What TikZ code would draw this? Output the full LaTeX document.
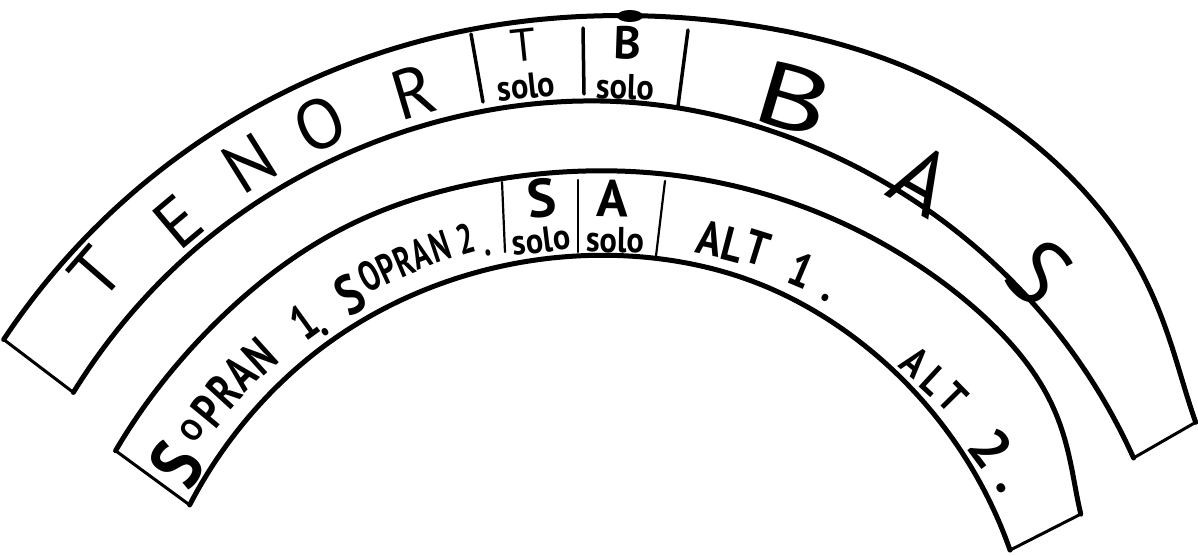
\documentclass[tikz,border=0pt]{standalone}
\usepackage{fontspec}
\setmainfont{PT Sans}
\begin{document}
\begin{tikzpicture}[x=1pt,y=-1pt,
  declare function={
    sp(\u)=(\u+sqrt(\u*\u+100))/2;
    rA(\t)=722+15*exp(-min(9,(\t-62)*(\t-62)/324))-55*exp(-min(9,(\t-25)*(\t-25)/196));
    rB(\t)=641-0.7*sp(88-\t)-0.3*sp(\t-128);
    rC(\t)=568+6*exp(-min(9,(\t-117)*(\t-117)/225))-45*exp(-min(9,(\t-22)*(\t-22)/144));
    rD(\t)=485-0.8*sp(72-\t)-0.3*sp(\t-125);
  },
  edge/.style={line width=5pt, line cap=round, line join=round},
  endline/.style={line width=3pt, line cap=round},
  divider/.style={line width=3.5pt, line cap=round},
  thindiv/.style={line width=2.2pt, line cap=round},
  tenorL/.style={inner sep=0pt, font=\fontsize{70}{70}\selectfont},
  basL/.style={inner sep=0pt, font=\fontsize{90}{90}\selectfont},
  soloL/.style={inner sep=0pt, xscale=0.9, font=\bfseries\fontsize{36}{36}\selectfont},
  soloCap/.style={inner sep=0pt, font=\fontsize{46}{46}\selectfont},
  sopBig/.style={inner sep=0pt, xscale=0.85, font=\bfseries\fontsize{74}{74}\selectfont},
  sopSmall/.style={inner sep=0pt, font=\bfseries\fontsize{30}{30}\selectfont},
  sopL/.style={inner sep=0pt, xscale=0.75, font=\bfseries\fontsize{50}{50}\selectfont},
  sopMid/.style={inner sep=0pt, xscale=0.8, font=\bfseries\fontsize{56}{56}\selectfont},
  sopN/.style={inner sep=0pt, xscale=0.7, font=\bfseries\fontsize{42}{42}\selectfont},
  altL/.style={inner sep=0pt, xscale=0.85, font=\bfseries\fontsize{48}{48}\selectfont},
  altM/.style={inner sep=0pt, xscale=0.85, font=\bfseries\fontsize{42}{42}\selectfont},
  altBig/.style={inner sep=0pt, font=\bfseries\fontsize{56}{56}\selectfont}]
\useasboundingbox (0,0) rectangle (1198,556);
\fill[white] (0,0) rectangle (1198,556);

% band corners
\coordinate (oaL) at ({605+rA(146.4)*cos(146.4)},{739-rA(146.4)*sin(146.4)});
\coordinate (oaR) at ({605+rA(28.2)*cos(28.2)},{739-rA(28.2)*sin(28.2)});
\coordinate (obL) at ({605+rB(146.9)*cos(146.9)},{739-rB(146.9)*sin(146.9)});
\coordinate (obR) at ({605+rB(28)*cos(28)},{739-rB(28)*sin(28)});
\coordinate (icL) at ({605+rC(149.5)*cos(149.5)},{739-rC(149.5)*sin(149.5)});
\coordinate (icR) at ({605+rC(25.3)*cos(25.3)},{739-rC(25.3)*sin(25.3)});
\coordinate (idL) at ({605+rD(150.6)*cos(150.6)},{739-rD(150.6)*sin(150.6)});
\coordinate (idR) at ({605+rD(25)*cos(25)},{739-rD(25)*sin(25)});

% outer band
\draw[edge] plot[domain=28.2:146.4, samples=160, variable=\t] ({605+rA(\t)*cos(\t)},{739-rA(\t)*sin(\t)});
\draw[edge] plot[domain=28:146.9, samples=160, variable=\t] ({605+rB(\t)*cos(\t)},{739-rB(\t)*sin(\t)});
\draw[endline] (oaL) -- (obL);
\draw[endline] (obR) -- (oaR);
\fill (630,16) ellipse [x radius=13, y radius=6];

% inner band
\draw[edge] plot[domain=25.3:149.5, samples=160, variable=\t] ({605+rC(\t)*cos(\t)},{739-rC(\t)*sin(\t)});
\draw[edge] plot[domain=25:150.6, samples=160, variable=\t] ({605+rD(\t)*cos(\t)},{739-rD(\t)*sin(\t)});
\draw[endline] (icL) -- (idL);
\draw[endline] (idR) -- (icR);

% dividers outer band
\draw[divider] (471,34) -- (483,102);
\draw[divider] (583,28) -- (584,94);
\draw[divider] (688,30) -- (678,106);
% dividers inner band
\draw[thindiv] (502,182) -- (505,252);
\draw[thindiv] (578,180) -- (578,252);
\draw[thindiv] (665,181) -- (656,256);

% TENOR
\foreach \n/\c/\x/\y/\a in {1/T/96/273/49, 2/E/178/222/40, 3/N/249/163/32, 4/O/320/124/25, 5/R/413/92/16.5}
  \node[rotate=\a, tenorL] (tenor\n) at (\x,\y) {\c};
% BAS
\node[rotate=-16.5, basL, xscale=1.4] (bas1) at (794,99) {B};
\node[rotate=-29.5, basL] (bas2) at (922,180) {A};
\node[rotate=-43, basL] (bas3) at (1039,273) {S};

% solo boxes
\node[rotate=6, soloCap] (tcap) at (524,45) {T};
\node[rotate=6, soloL] (tsolo) at (526,86) {solo};
\node[rotate=-2, soloCap, font=\bfseries\fontsize{46}{46}\selectfont] (bcap) at (628,43) {B};
\node[rotate=-2, soloL] (bsolo) at (625,87) {solo};
\node[rotate=6, soloCap, font=\bfseries\fontsize{54}{54}\selectfont] (scap) at (542,198) {S};
\node[rotate=7, soloL] (ssolo) at (541,240) {solo};
\node[rotate=-1, soloCap, font=\bfseries\fontsize{52}{52}\selectfont] (acap) at (613,198) {A};
\node[rotate=-1, soloL] (asolo) at (615,240) {solo};

% SOPRAN 1.
\node[rotate=57.4, sopBig] (sa1) at (177,465) {S};
\node[rotate=53.4, sopSmall] (sa2) at (192,430) {O};
\foreach \n/\c/\x/\y/\a in {3/P/209/411/50.5, 4/R/224/391/47.7, 5/A/240/373/44.9, 6/N/260/356/42, 7/1/304/322/35.8}
  \node[rotate=\a, sopL] (sa\n) at (\x,\y) {\c};
\node[rotate=34.5, sopL] (sa8) at (325,332) {.};

% SOPRAN 2.
\node[rotate=29.8, sopMid] (sb1) at (350,295) {S};
\foreach \n/\c/\x/\y/\a in {2/O/370/276/27, 3/P/387/268/24.9, 4/R/404/261/22.8, 5/A/421/254/20.7, 6/N/440/246/18.5, 7/2/465/239/15.6, 8/./488/253/13.5}
  \node[rotate=\a, sopN] (sb\n) at (\x,\y) {\c};

% ALT 1.
\foreach \n/\c/\x/\y/\a in {1/A/710/238/-11.8, 2/L/733/245/-14.6, 3/T/758/248/-17.3, 4/1/802/270/-22.8, 5/./825/298/-26.7}
  \node[rotate=\a, altL] (aa\n) at (\x,\y) {\c};

% ALT 2.
\foreach \n/\c/\x/\y/\a in {1/A/915/362/-39.4, 2/L/934/381/-42.6, 3/T/953/397/-45.5}
  \node[rotate=\a, altM] (ab\n) at (\x,\y) {\c};
\node[rotate=-53.3, altBig] (ab4) at (991,448) {2};
\node[rotate=-56.8, altBig] (ab5) at (1001,488) {.};
\end{tikzpicture}
\end{document}
